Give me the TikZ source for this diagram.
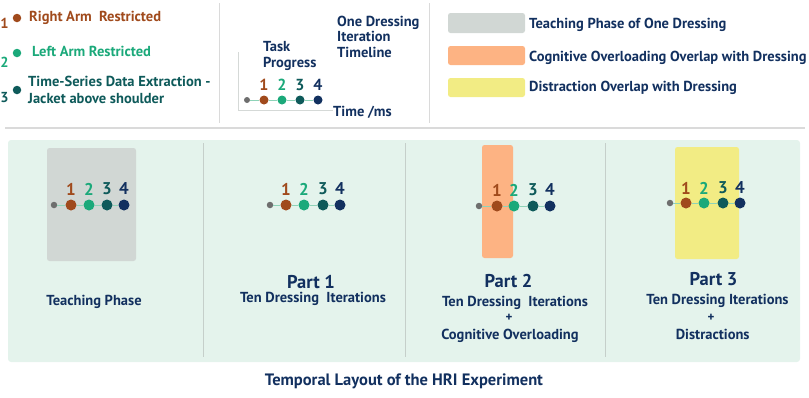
\documentclass[tikz,border=0pt]{standalone}
\usepackage{fontspec}
\setmainfont{PT Sans}
\definecolor{brownC}{HTML}{A04A1C}
\definecolor{greenC}{HTML}{1BA97A}
\definecolor{tealC}{HTML}{0E5A5A}
\definecolor{navyC}{HTML}{12305F}
\definecolor{grayDot}{HTML}{6E6E6E}
\definecolor{lineC}{HTML}{8ED3B8}
\definecolor{panelBg}{HTML}{E4F3EC}
\definecolor{panelSep}{HTML}{C5CFCA}
\definecolor{grayBox}{HTML}{D1D7D4}
\definecolor{orangeC}{HTML}{FDB383}
\definecolor{yellowC}{HTML}{F2EC84}
\definecolor{ruleC}{HTML}{DADADA}
\definecolor{axisC}{HTML}{D5D9D7}
\newcommand{\tmln}[8]{%
  \node[gdot] (#1g) at (#2,#7) {};
  \node[cdot, fill=brownC] (#1a) at (#3,#7) {};
  \node[cdot, fill=greenC] (#1b) at (#4,#7) {};
  \node[cdot, fill=tealC] (#1c) at (#5,#7) {};
  \node[cdot, fill=navyC] (#1d) at (#6,#7) {};
  \draw[tl] (#1g) -- (#1a) (#1a) -- (#1b) (#1b) -- (#1c) (#1c) -- (#1d);
  \node[num, text=brownC] (#1na) at (#3,#8) {1};
  \node[num, text=greenC] (#1nb) at (#4,#8) {2};
  \node[num, text=tealC] (#1nc) at (#5,#8) {3};
  \node[num, text=navyC] (#1nd) at (#6,#8) {4};
}
\begin{document}
\begin{tikzpicture}[x=1pt,y=-1pt,
  txt/.style={font=\bfseries\fontsize{14.5}{16}\selectfont, text=navyC, inner sep=0pt},
  part/.style={font=\bfseries\fontsize{18.5}{20}\selectfont, text=navyC, inner sep=0pt},
  num/.style={font=\bfseries\fontsize{17}{19}\selectfont, inner sep=0pt},
  cdot/.style={circle, inner sep=0pt, minimum size=11pt, draw=none},
  gdot/.style={circle, inner sep=0pt, minimum size=6.5pt, fill=grayDot, draw=none},
  ldot/.style={circle, inner sep=0pt, minimum size=8.5pt, draw=none},
  tl/.style={draw=lineC, line width=0.9pt},
  box/.style={rounded corners=2.5pt, draw=none}]
\useasboundingbox (0,0) rectangle (809,397);
% top rule and separators
\coordinate (r0) at (5,128); \coordinate (r1) at (805,128);
\draw[ruleC, line width=1.3pt] (r0) -- (r1);
\coordinate (s0) at (219,3); \coordinate (s1) at (219,123);
\coordinate (s2) at (429,3); \coordinate (s3) at (429,123);
\draw[ruleC, line width=0.8pt] (s0) -- (s1) (s2) -- (s3);
% left legend
\node[ldot, fill=brownC] (l1) at (17,18) {};
\node[ldot, fill=greenC] (l2) at (17,53) {};
\node[ldot, fill=tealC] (l3) at (17,90) {};
\node[txt, text=brownC] (ln1) at (4.5,23) {1};
\node[txt, text=greenC] (ln2) at (4.5,62) {2};
\node[txt, text=tealC] (ln3) at (4.5,98) {3};
\node[txt, text=brownC, anchor=west] (lt1) at (29,18) {Right Arm\ \ Restricted};
\node[txt, text=greenC, anchor=west] (lt2) at (32,51) {Left Arm Restricted};
\node[txt, text=tealC, anchor=west, align=left, font=\bfseries\fontsize{14.5}{17}\selectfont] (lt3) at (28,90) {Time-Series Data Extraction -\\Jacket above shoulder};
% top timeline
\coordinate (ax0) at (238,52); \coordinate (ax1) at (238,110); \coordinate (ax2) at (333,110);
\draw[axisC, line width=0.8pt] (ax0) -- (ax1) -- (ax2);
\node[txt, anchor=west, align=left] (tp) at (263,55.5) {Task\\Progress};
\node[txt, anchor=west] (tm) at (333,112) {Time /ms};
\node[txt, anchor=west, align=left, font=\bfseries\fontsize{14.5}{15.5}\selectfont] (odi) at (337,36.5) {One Dressing\\Iteration\\Timeline};
\begin{scope}[cdot/.append style={minimum size=9pt}, gdot/.append style={minimum size=6pt}, num/.append style={font=\bfseries\fontsize{16}{18}\selectfont}]
\tmln{t}{247}{264}{282}{300}{318}{100}{85}
\end{scope}
% legend boxes
\node[box, fill=grayBox, minimum width=77pt, minimum height=20pt] (bx1) at (486.5,23) {};
\node[box, fill=orangeC, minimum width=77pt, minimum height=19pt] (bx2) at (486.5,55.5) {};
\node[box, fill=yellowC, minimum width=77pt, minimum height=19pt] (bx3) at (486.5,87.5) {};
\node[txt, anchor=west] (bt1) at (529,25) {Teaching Phase of One Dressing};
\node[txt, anchor=west] (bt2) at (529,58) {Cognitive Overloading Overlap with Dressing};
\node[txt, anchor=west] (bt3) at (529,88) {Distraction Overlap with Dressing};
% panel
\fill[panelBg, rounded corners=3pt] (8,140) rectangle (800,362);
\coordinate (p0) at (203,143); \coordinate (p1) at (203,357);
\coordinate (p2) at (405,143); \coordinate (p3) at (405,357);
\coordinate (p4) at (605,143); \coordinate (p5) at (605,357);
\draw[panelSep, line width=0.8pt] (p0) -- (p1) (p2) -- (p3) (p4) -- (p5);
\fill[grayBox, rounded corners=2.5pt] (47,148) rectangle (136,261);
\fill[orangeC, rounded corners=2.5pt] (482,145) rectangle (513,258);
\fill[yellowC, rounded corners=2.5pt] (675,147) rectangle (739,259);
\tmln{a}{54}{71}{89}{107}{124}{205}{189}
\tmln{b}{270}{286}{304}{323}{340}{205}{189}
\tmln{c}{479}{497}{514}{533}{550}{206}{190}
\tmln{d}{670}{686}{704}{723}{740}{203}{188}
% panel texts
\node[txt] (tp0) at (94,302) {Teaching Phase};
\node[part] (pt1) at (311,282) {Part 1};
\node[txt] (st1) at (313,299) {Ten Dressing\ \ Iterations};
\node[part] (pt2) at (508.5,281) {Part 2};
\node[txt] (st2) at (515,303) {Ten Dressing\ \ Iterations};
\node[txt, font=\bfseries\fontsize{13}{14}\selectfont] (pl2) at (509,318) {+};
\node[txt] (st2b) at (510,336) {Cognitive Overloading};
\node[part] (pt3) at (713.5,279) {Part 3};
\node[txt] (st3) at (717.5,301) {Ten Dressing Iterations};
\node[txt, font=\bfseries\fontsize{13}{14}\selectfont] (pl3) at (711,318) {+};
\node[txt] (st3b) at (712.7,334) {Distractions};
% title
\node[txt, font=\bfseries\fontsize{16.5}{18}\selectfont] (title) at (404,381) {Temporal Layout of the HRI Experiment};
\end{tikzpicture}
\end{document}
